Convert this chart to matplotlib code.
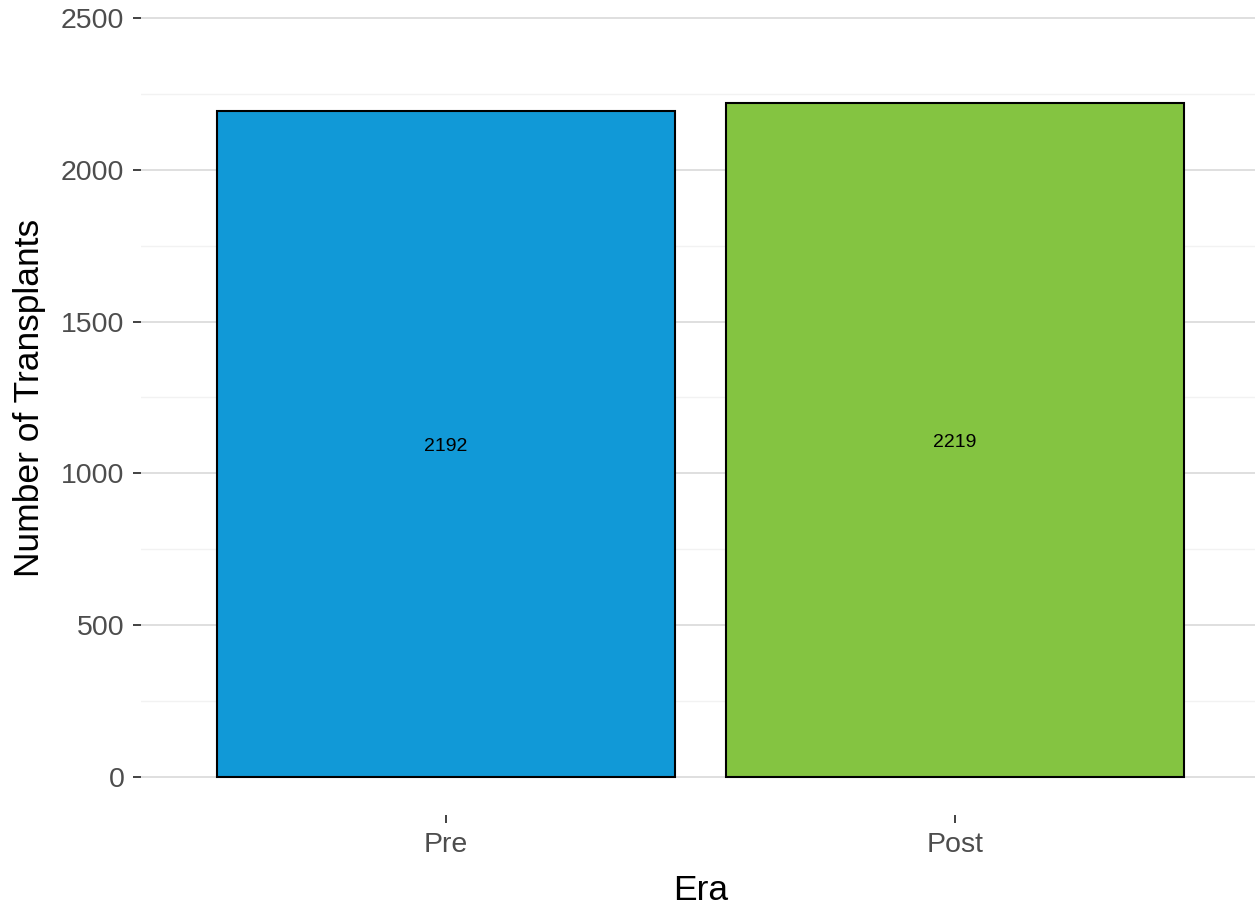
import matplotlib
matplotlib.use("Agg")
import matplotlib.pyplot as plt

plt.rcParams['font.family'] = ['Liberation Sans', 'DejaVu Sans']

eras = ["Pre", "Post"]
counts = [2192, 2219]
colors = ["#1199D7", "#84C441"]

fig = plt.figure(figsize=(12.55, 9.05), dpi=100)
W, H = 1255, 905
# panel in pixel coords: left 141, right 1260, top 0, bottom 815
ax = fig.add_axes([141 / W, (H - 815) / H, 1119 / W, 815 / H])

xs = [1, 2]
ax.bar(xs, counts, width=0.9, color=colors, edgecolor="black", linewidth=1.5, zorder=3)
for x, c in zip(xs, counts):
    ax.text(x, c / 2, str(c), ha="center", va="center_baseline", fontsize=14, color="black", zorder=4)

ax.set_xlim(0.4, 2.6)
ax.set_ylim(-125, 2559)
ax.set_xticks(xs)
ax.set_xticklabels(eras)
ax.set_yticks([0, 500, 1000, 1500, 2000, 2500])
ax.set_yticks([250, 750, 1250, 1750, 2250], minor=True)

ax.grid(axis="y", which="major", color="#DCDCDC", linewidth=1.3, zorder=0)
ax.grid(axis="y", which="minor", color="#F2F2F2", linewidth=1.0, zorder=0)
ax.tick_params(axis="y", which="minor", length=0)
ax.tick_params(axis="both", which="major", labelsize=20.5, labelcolor="#4D4D4D",
               color="#333333", length=6, width=1.3)
ax.tick_params(axis="x", pad=6)
ax.tick_params(axis="y", pad=6)

for s in ax.spines.values():
    s.set_visible(False)

ax.set_xlabel("Era", fontsize=25.5, labelpad=12)
ax.set_ylabel("Number of Transplants", fontsize=25.5, labelpad=11)
ax.yaxis.label.set_y(0.512)

fig.savefig("out.png", dpi=100)
